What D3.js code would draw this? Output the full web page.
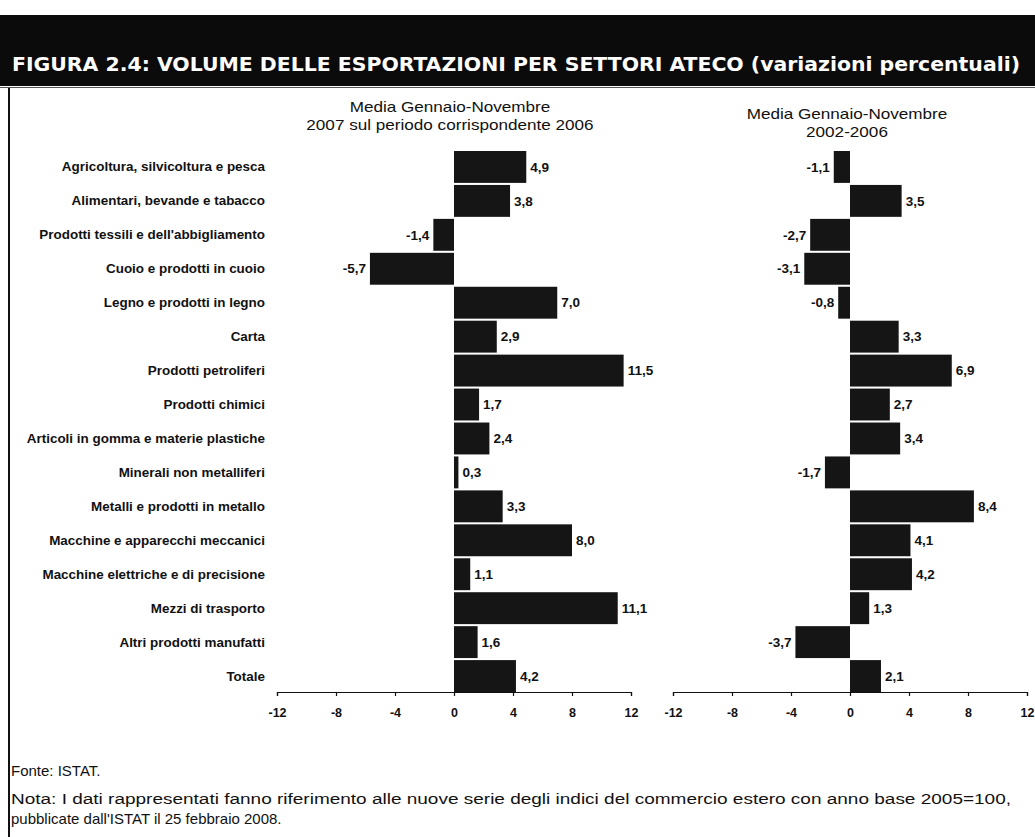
<!DOCTYPE html>
<html>
<head>
<meta charset="utf-8">
<script src="https://cdn.jsdelivr.net/npm/d3@7"></script>
<style>
  html, body { margin: 0; padding: 0; background: #fff; }
  svg { display: block; }
</style>
</head>
<body>
<svg id="chart" width="1035" height="837"></svg>
<script>
// Settori ATECO
const categories = [
  "Agricoltura, silvicoltura e pesca",
  "Alimentari, bevande e tabacco",
  "Prodotti tessili e dell'abbigliamento",
  "Cuoio e prodotti in cuoio",
  "Legno e prodotti in legno",
  "Carta",
  "Prodotti petroliferi",
  "Prodotti chimici",
  "Articoli in gomma e materie plastiche",
  "Minerali non metalliferi",
  "Metalli e prodotti in metallo",
  "Macchine e apparecchi meccanici",
  "Macchine elettriche e di precisione",
  "Mezzi di trasporto",
  "Altri prodotti manufatti",
  "Totale"
];

// Variazioni % Gen-Nov 2007 sul periodo corrispondente 2006
const values2007 = [4.9, 3.8, -1.4, -5.7, 7.0, 2.9, 11.5, 1.7, 2.4, 0.3, 3.3, 8.0, 1.1, 11.1, 1.6, 4.2];
// Variazioni % medie Gen-Nov 2002-2006
const values2002_2006 = [-1.1, 3.5, -2.7, -3.1, -0.8, 3.3, 6.9, 2.7, 3.4, -1.7, 8.4, 4.1, 4.2, 1.3, -3.7, 2.1];

const tickValues = [-12, -8, -4, 0, 4, 8, 12];
const xDomain = [-12, 12];

const titleText = "FIGURA 2.4: VOLUME DELLE ESPORTAZIONI PER SETTORI ATECO (variazioni percentuali)";
const panelTitles = [
  ["Media Gennaio-Novembre", "2007 sul periodo corrispondente 2006"],
  ["Media Gennaio-Novembre", "2002-2006"]
];
const sourceText = "Fonte: ISTAT.";
const noteLines = [
  "Nota: I dati rappresentati fanno riferimento alle nuove serie degli indici del commercio estero con anno base 2005=100,",
  "pubblicate dall'ISTAT il 25 febbraio 2008."
];

const svg = d3.select("#chart");
const FONT = "'Liberation Sans', Arial, Helvetica, sans-serif";
const BAR = "#151515";

// Widen text horizontally by factor k (the typeface is set a little wide)
function stretch(sel, k) {
  sel.each(function () {
    const w = this.getComputedTextLength();
    d3.select(this).attr("textLength", w * k).attr("lengthAdjust", "spacingAndGlyphs");
  });
}

// Header band
svg.append("rect").attr("x", 0).attr("y", 15).attr("width", 1035).attr("height", 71).attr("fill", "#0b0b0b");
svg.append("line").attr("x1", 0).attr("x2", 1035).attr("y1", 87.5).attr("y2", 87.5)
  .attr("stroke", "#555").attr("stroke-width", 1);
svg.append("text")
  .attr("x", 12).attr("y", 71)
  .attr("fill", "#fff")
  .attr("font-family", "'DejaVu Sans Condensed', 'DejaVu Sans', sans-serif")
  .attr("font-stretch", "condensed")
  .attr("font-weight", "bold")
  .attr("font-size", 20)
  .attr("textLength", 1008)
  .attr("lengthAdjust", "spacingAndGlyphs")
  .text(titleText);

// Left frame line
svg.append("line").attr("x1", 9).attr("x2", 9).attr("y1", 88).attr("y2", 837)
  .attr("stroke", "#111").attr("stroke-width", 2);

const y = d3.scaleBand().domain(categories).range([151, 692]).paddingInner(0.06).paddingOuter(0);
const fmt = v => d3.format(".1f")(v).replace(".", ",").replace("\u2212", "-");

function panel(values, range, title, titleY) {
  const x = d3.scaleLinear().domain(xDomain).range(range);
  const g = svg.append("g");
  const data = categories.map((c, i) => ({ c, v: values[i] }));

  g.selectAll("rect.bar").data(data).join("rect")
    .attr("class", "bar")
    .attr("x", d => Math.min(x(0), x(d.v)))
    .attr("width", d => Math.abs(x(d.v) - x(0)))
    .attr("y", d => y(d.c))
    .attr("height", y.bandwidth())
    .attr("fill", BAR);

  g.selectAll("text.val").data(data).join("text")
    .attr("class", "val")
    .attr("x", d => d.v >= 0 ? x(d.v) + 4 : x(d.v) - 4)
    .attr("y", d => y(d.c) + y.bandwidth() / 2)
    .attr("dy", "0.35em")
    .attr("text-anchor", d => d.v >= 0 ? "start" : "end")
    .attr("font-family", FONT).attr("font-weight", "bold").attr("font-size", 13.5)
    .attr("fill", "#111")
    .text(d => fmt(d.v));

  const axis = d3.axisBottom(x).tickValues(tickValues).tickSize(4).tickSizeOuter(4)
    .tickFormat(d => String(d));
  const ag = g.append("g").attr("transform", `translate(0,${y.range()[1]})`).call(axis);
  ag.select(".domain").attr("stroke", "#111").attr("stroke-width", 1.2);
  ag.selectAll(".tick line").attr("stroke", "#111").attr("stroke-width", 1.2);
  ag.selectAll(".tick text")
    .attr("font-family", FONT).attr("font-weight", "bold").attr("font-size", 12.5)
    .attr("fill", "#111").attr("y", 16);

  const cx = (range[0] + range[1]) / 2 + title.dx;
  g.selectAll("text.ptitle").data(title.lines).join("text")
    .attr("class", "ptitle")
    .attr("x", cx)
    .attr("y", (d, i) => titleY + i * 18)
    .attr("text-anchor", "middle")
    .attr("font-family", FONT).attr("font-size", 14.5)
    .attr("fill", "#111")
    .text(d => d)
    .call(stretch, 1.18);
  return x;
}

panel(values2007, [277, 631], { lines: panelTitles[0], dx: -4 }, 112);
panel(values2002_2006, [673, 1027], { lines: panelTitles[1], dx: -3 }, 119);

// Category labels
svg.append("g").selectAll("text").data(categories).join("text")
  .attr("x", 265)
  .attr("y", d => y(d) + y.bandwidth() / 2)
  .attr("dy", "0.35em")
  .attr("text-anchor", "end")
  .attr("font-family", FONT).attr("font-weight", "bold").attr("font-size", 12.8)
  .attr("fill", "#111")
  .text(d => d)
  .call(stretch, 1.05);

// Source and note (first note line set full width)
svg.append("text").attr("x", 11).attr("y", 776)
  .attr("font-family", FONT).attr("font-size", 15).attr("fill", "#111")
  .text(sourceText);
svg.append("text").attr("x", 11).attr("y", 804)
  .attr("font-family", FONT).attr("font-size", 15.5).attr("fill", "#111")
  .attr("textLength", 1000).attr("lengthAdjust", "spacingAndGlyphs")
  .text(noteLines[0]);
svg.append("text").attr("x", 11).attr("y", 824)
  .attr("font-family", FONT).attr("font-size", 15).attr("fill", "#111")
  .text(noteLines[1]);
</script>
</body>
</html>
